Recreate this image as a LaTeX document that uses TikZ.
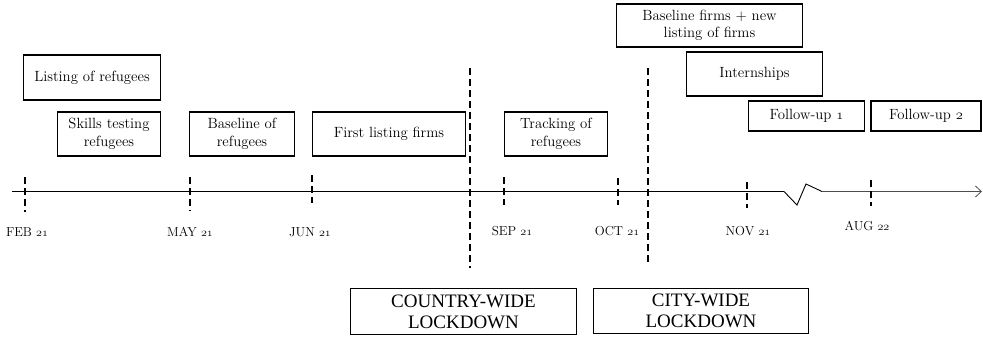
\documentclass[tikz,border=0pt]{standalone}
\usepackage{fontspec}
\newfontfamily\lockfont{Liberation Serif}
\usetikzlibrary{arrows.meta}
% old-style figures from the Latin Modern math italic font
\newcommand\osn[1]{{\usefont{OML}{lmm}{m}{it}#1}}
\tikzset{
  task/.style={draw, line width=1.6pt, align=center, inner sep=0pt,
    font=\fontsize{14.8}{17.5}\selectfont},
  lock/.style={draw, line width=1pt, align=center, inner sep=0pt,
    font=\lockfont\fontsize{19}{21}\selectfont},
  date/.style={inner sep=0pt, font=\fontsize{13}{15}\selectfont},
  tick/.style={line width=1.2pt, dash pattern=on 7pt off 4pt},
  phase/.style={line width=1.2pt, dash pattern=on 6.5pt off 4.5pt},
}
\begin{document}
\begin{tikzpicture}[x=1pt, y=-1pt]
\useasboundingbox (0,0) rectangle (983,338);

% activities
\node[task, minimum width=137, minimum height=45.5] (listR) at (92,77.5) {Listing of refugees};
\node[task, minimum width=103, minimum height=44.5] (skills) at (109,134) {Skills testing\\refugees};
\node[task, minimum width=105, minimum height=44.5] (baseR) at (242,134) {Baseline of\\refugees};
\node[task, minimum width=153, minimum height=44.5] (firstF) at (389,134) {First listing firms};
\node[task, minimum width=103, minimum height=44.5] (track) at (556,134) {Tracking of\\refugees};
\node[task, minimum width=186, minimum height=43.5] (baseF) at (709.5,25.5) {Baseline firms + new\\listing of firms};
\node[task, minimum width=136, minimum height=44.5] (intern) at (754.5,74) {Internships};
\node[task, minimum width=116, minimum height=30.5] (fu1) at (806.5,116) {Follow-up \osn{1}};
\node[task, minimum width=110, minimum height=30.5] (fu2) at (926,116) {Follow-up \osn{2}};

% lockdowns
\node[lock, minimum width=226, minimum height=46] (country) at (463.5,311.5) {COUNTRY-WIDE\\LOCKDOWN};
\node[lock, minimum width=215, minimum height=45] (city) at (701,311) {CITY-WIDE\\LOCKDOWN};

% time axis with a break
\coordinate (t0) at (12,191.5);
\coordinate (b0) at (784,191.5);
\coordinate (b1) at (797,205);
\coordinate (b2) at (806,184);
\coordinate (b3) at (822,191.5);
\coordinate (tend) at (982,191.5);
\draw[line width=1.1pt] (t0) -- (b0);
\draw[line width=0.9pt, line join=miter] (b0) -- (b1) -- (b2) -- (b3);
\draw[line width=0.8pt, black!70, -{Straight Barb[length=6pt,width=11pt]}] (b3) -- (tend);

% month ticks
\foreach \nm/\x/\a/\b in {feb/25/177/212, may/190/177/211, jun/312/175/203,
    sep/504/177/205, oct/618/178/205, nov/747/182/208, aug/871/180/206}{
  \coordinate (\nm top) at (\x,\a);
  \coordinate (\nm bot) at (\x,\b);
  \draw[tick] (\nm top) -- (\nm bot);
}

% month labels
\node[date] (lfeb) at (27,232) {FEB \osn{21}};
\node[date] (lmay) at (190,232) {MAY \osn{21}};
\node[date] (ljun) at (310,232) {JUN \osn{21}};
\node[date] (lsep) at (512,231) {SEP \osn{21}};
\node[date] (loct) at (617,231) {OCT \osn{21}};
\node[date] (lnov) at (748,231) {NOV \osn{21}};
\node[date] (laug) at (867,226) {AUG \osn{22}};

% lockdown boundaries
\coordinate (c1top) at (470,68);
\coordinate (c1bot) at (470,268);
\coordinate (c2top) at (648,68);
\coordinate (c2bot) at (648,262);
\draw[phase] (c1top) -- (c1bot);
\draw[phase] (c2top) -- (c2bot);
\end{tikzpicture}
\end{document}
